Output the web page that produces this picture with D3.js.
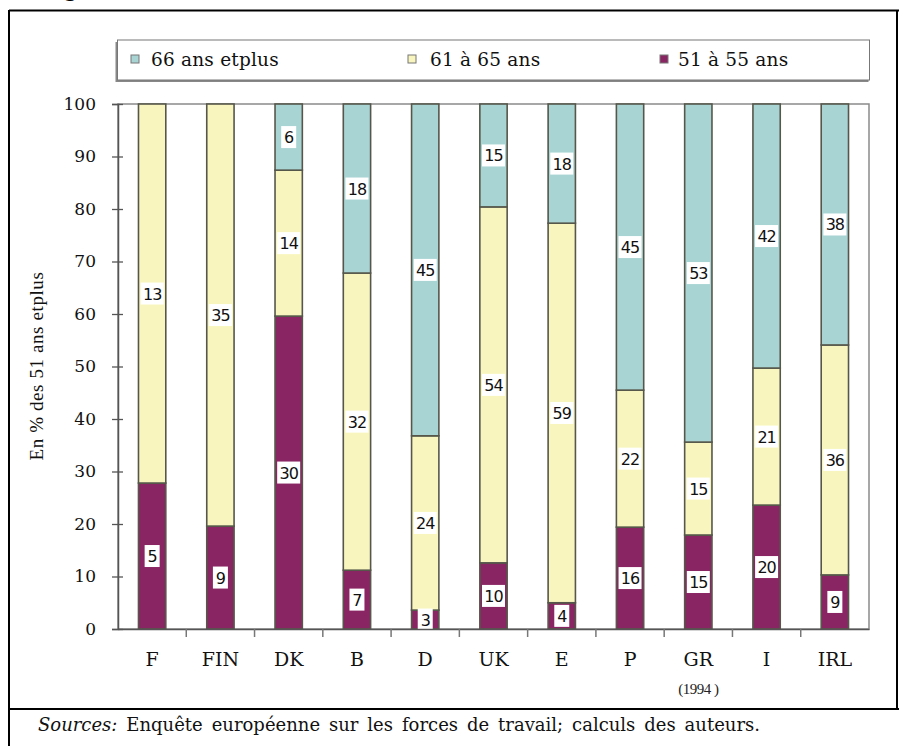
<!DOCTYPE html>
<html><head><meta charset="utf-8">
<script src="https://cdn.jsdelivr.net/npm/d3@7"></script>
<style>body{margin:0;background:#fff;overflow:hidden}</style></head><body>
<svg id="c" width="899" height="746"></svg>
<script>
const categories = ["F","FIN","DK","B","D","UK","E","P","GR","I","IRL"];
const subLabels = ["","","","","","","","","(1994 )","",""];
const seriesKeys = ["s5155","s6165","s66"];
const seriesNames = ["51 à 55 ans","61 à 65 ans","66 ans etplus"];
const seriesColors = ["#8a2563","#f8f6be","#a9d4d4"];
// segment heights as drawn in the picture (% of bar)
const h5155 = [27.8,19.6,59.6,11.2,3.6,12.6,5.0,19.4,17.9,23.6,10.3];
const h6165 = [72.2,80.4,27.8,56.6,33.2,67.8,72.3,26.1,17.7,26.1,43.8];
const h66   = [0,0,12.6,32.2,63.2,19.6,22.7,54.5,64.4,50.3,45.9];
// printed data labels
const lab5155 = ["5","9","30","7","3","10","4","16","15","20","9"];
const lab6165 = ["13","35","14","32","24","54","59","22","15","21","36"];
const lab66   = ["","","6","18","45","15","18","45","53","42","38"];
const yTicks = [0,10,20,30,40,50,60,70,80,90,100];
const legendOrder = [2,1,0];

const svg = d3.select("#c");
const W = 899, H = 746;
const m = {left:118, right:869, top:104, bottom:629};

const table = categories.map((c,i)=>({cat:c, s5155:h5155[i], s6165:h6165[i], s66:h66[i],
  l5155:lab5155[i], l6165:lab6165[i], l66:lab66[i]}));
const labelKeys = {s5155:"l5155", s6165:"l6165", s66:"l66"};

const x = d3.scaleBand().domain(categories).range([m.left,m.right]).paddingInner(0.6).paddingOuter(0.3);
const xb = d3.scaleBand().domain(categories).range([m.left,m.right]);
const y = d3.scaleLinear().domain([0,100]).range([m.bottom,m.top]);
const color = d3.scaleOrdinal().domain(seriesKeys).range(seriesColors);

// outer frame
svg.append("line").attr("x1",9).attr("x2",W).attr("y1",10.5).attr("y2",10.5).attr("stroke","#000").attr("stroke-width",2);
svg.append("line").attr("x1",9).attr("x2",9).attr("y1",10).attr("y2",H).attr("stroke","#000").attr("stroke-width",2);
svg.append("line").attr("x1",897).attr("x2",897).attr("y1",10).attr("y2",709).attr("stroke","#000").attr("stroke-width",2);
svg.append("line").attr("x1",9).attr("x2",W).attr("y1",709).attr("y2",709).attr("stroke","#000").attr("stroke-width",2);
svg.append("text").attr("x",64).attr("y",-3).attr("font-family","DejaVu Serif").attr("font-weight","bold").attr("font-size",20).text("g");

// legend
const lg = svg.append("g");
lg.append("rect").attr("x",115.5).attr("y",42).attr("width",753).attr("height",40).attr("fill","#888");
lg.append("rect").attr("x",117.5).attr("y",40).attr("width",752).attr("height",40).attr("fill","#fff").attr("stroke","#777").attr("stroke-width",1);
const legX = [131,408,660];
const legT = [151,430,678];
legendOrder.forEach((si,k)=>{
  lg.append("rect").attr("x",legX[k]).attr("y",55).attr("width",8).attr("height",8)
    .attr("fill",seriesColors[si]).attr("stroke","#777").attr("stroke-width",1);
  lg.append("text").attr("x",legT[k]).attr("y",66).attr("font-family","DejaVu Serif")
    .attr("font-size",18.5).attr("letter-spacing",0.2).attr("fill","#111").text(seriesNames[si]);
});

// plot frame
svg.append("rect").attr("x",m.left).attr("y",m.top).attr("width",m.right-m.left).attr("height",m.bottom-m.top)
  .attr("fill","none").attr("stroke","#8a8a8a").attr("stroke-width",1.5);

// bars
const stack = d3.stack().keys(seriesKeys)(table);
const layers = svg.append("g").selectAll("g").data(stack).join("g").attr("fill",d=>color(d.key));
layers.selectAll("rect").data(d=>d.map(p=>({p, key:d.key}))).join("rect")
  .filter(d=>d.p[1]-d.p[0]>0)
  .attr("x",d=>x(d.p.data.cat)).attr("width",x.bandwidth())
  .attr("y",d=>y(d.p[1])).attr("height",d=>y(d.p[0])-y(d.p[1]))
  .attr("stroke","#56574a").attr("stroke-width",1.6);

// labels
const lbl = svg.append("g");
stack.forEach(layer=>{
  layer.forEach(p=>{
    const t = p.data[labelKeys[layer.key]];
    if(!t) return;
    const cx = x(p.data.cat)+x.bandwidth()/2;
    const cy = y((p[0]+p[1])/2);
    const w = t.length===1 ? 15 : 23;
    lbl.append("rect").attr("x",cx-w/2).attr("y",cy-11).attr("width",w).attr("height",22).attr("fill","#fff");
    lbl.append("text").attr("x",cx).attr("y",cy+6).attr("text-anchor","middle")
      .attr("font-family","DejaVu Sans").attr("font-size",16).attr("letter-spacing",-1).attr("fill","#111").text(t);
  });
});

// y axis
const ya = svg.append("g").attr("transform",`translate(${m.left},0)`)
  .call(d3.axisLeft(y).tickValues(yTicks).tickSize(6).tickPadding(16));
ya.select(".domain").attr("stroke","#555").attr("stroke-width",1.5);
ya.selectAll(".tick line").attr("stroke","#555").attr("x2",-6).attr("x1",5).attr("stroke-width",1.3);
ya.selectAll(".tick text").attr("font-family","DejaVu Serif").attr("font-size",17).attr("fill","#111");

// x axis
const xa = svg.append("g").attr("transform",`translate(0,${m.bottom})`)
  .call(d3.axisBottom(xb).tickSize(0).tickPadding(24));
xa.select(".domain").attr("stroke","#555").attr("stroke-width",1.5);
xa.selectAll(".tick text").attr("font-family","DejaVu Serif").attr("font-size",19).attr("fill","#111");
xa.selectAll(".tick line").remove();
xa.selectAll(".bt").data(categories.slice(1)).join("line").attr("class","bt")
  .attr("x1",d=>xb(d)).attr("x2",d=>xb(d)).attr("y1",0).attr("y2",8).attr("stroke","#777").attr("stroke-width",1.5);
svg.append("g").selectAll("text").data(categories.map((c,i)=>({c,s:subLabels[i]})).filter(d=>d.s)).join("text")
  .attr("x",d=>xb(d.c)+xb.bandwidth()/2).attr("y",694).attr("text-anchor","middle")
  .attr("font-family","Liberation Serif").attr("font-size",15).attr("letter-spacing",-0.5).attr("fill","#222").text(d=>d.s);

// y title
svg.append("text").attr("transform","translate(43,366) rotate(-90)").attr("text-anchor","middle")
  .attr("font-family","Liberation Serif").attr("font-size",19).attr("letter-spacing",0.6).attr("fill","#111")
  .text("En % des 51 ans etplus");

// sources
const src = svg.append("text").attr("x",38).attr("y",731).attr("font-family","DejaVu Serif").attr("font-size",18).attr("fill","#111");
src.append("tspan").attr("font-style","italic").text("Sources:");
src.append("tspan").text(" Enquête européenne sur les forces de travail; calculs des auteurs.");
const cur = src.node().getComputedTextLength();
const nSpaces = 10;
src.attr("word-spacing", Math.max(0,(722-cur)/nSpaces));
</script></body></html>
